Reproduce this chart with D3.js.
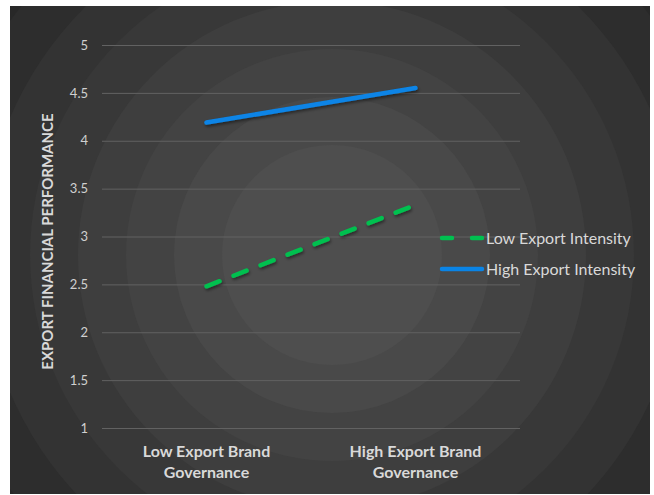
<!DOCTYPE html>
<html>
<head>
<meta charset="utf-8">
<script src="https://cdn.jsdelivr.net/npm/d3@7"></script>
<style>
  html, body { margin: 0; padding: 0; background: #ffffff; }
  svg { display: block; font-family: Lato, "Open Sans", sans-serif; }
</style>
</head>
<body>
<svg id="chart" width="654" height="495"></svg>
<script>
// Interaction plot: export brand governance x export intensity
const categories = ["Low Export Brand Governance", "High Export Brand Governance"];
const categoryLines = [["Low Export Brand", "Governance"], ["High Export Brand", "Governance"]];
const seriesNames = ["Low Export Intensity", "High Export Intensity"];
const lowIntensity = [2.48, 3.33];
const highIntensity = [4.19, 4.55];
const yTicks = [1, 1.5, 2, 2.5, 3, 3.5, 4, 4.5, 5];
const yTitle = "EXPORT FINANCIAL PERFORMANCE";

const svg = d3.select("#chart");
const frame = { x: 10, y: 6, w: 640, h: 488 };
const plot = { left: 102, right: 520, top: 45, bottom: 428 };

// Dark panel with stepped concentric rings
const defs = svg.append("defs");
defs.append("clipPath").attr("id", "panel-clip")
  .append("rect").attr("x", frame.x).attr("y", frame.y).attr("width", frame.w).attr("height", frame.h);
defs.append("filter").attr("id", "shadow").attr("x", "-10%").attr("y", "-50%").attr("width", "120%").attr("height", "200%")
  .append("feDropShadow").attr("dx", 1).attr("dy", 2).attr("stdDeviation", 1.5)
  .attr("flood-color", "#000").attr("flood-opacity", 0.45);

const panel = svg.append("g").attr("clip-path", "url(#panel-clip)");
panel.append("rect").attr("x", frame.x).attr("y", frame.y)
  .attr("width", frame.w).attr("height", frame.h).attr("fill", "#252525");
const cx = 332, cy = 255;
const ringRadii = d3.range(446, 100, -48);          // 446 ... 110
const ringShade = d3.scaleLinear().domain([110, 446]).range(["#4e4e4e", "#282828"]);
panel.selectAll("circle.ring").data(ringRadii).join("circle")
  .attr("class", "ring")
  .attr("cx", cx).attr("cy", cy).attr("r", d => d)
  .attr("fill", d => ringShade(d));

// Scales
const x = d3.scaleBand().domain(categories).range([plot.left, plot.right]);
const y = d3.scaleLinear().domain([1, 5]).range([plot.bottom, plot.top]);

// Gridlines and y tick labels
const yAxis = d3.axisLeft(y).tickValues(yTicks)
  .tickFormat(d3.format("~g"))
  .tickSize(-(plot.right - plot.left)).tickPadding(14);
const yg = svg.append("g").attr("transform", `translate(${plot.left},0)`).call(yAxis);
yg.select(".domain").remove();
yg.selectAll(".tick line").attr("stroke", "#626262").attr("stroke-width", 1);
yg.selectAll(".tick text").attr("fill", "#d0d0d0").attr("font-size", 13)
  .style("font-family", "Lato, 'Open Sans', sans-serif");

// Category labels
const xg = svg.append("g");
categories.forEach((c, i) => {
  const cxl = x(c) + x.bandwidth() / 2;
  const t = xg.append("text")
    .attr("x", cxl)
    .attr("y", 457)
    .attr("text-anchor", "middle")
    .attr("fill", "#d9d9d9")
    .attr("font-size", 16)
    .attr("font-weight", "bold");
  categoryLines[i].forEach((line, j) => {
    t.append("tspan").attr("x", cxl)
      .attr("dy", j === 0 ? 0 : 21).text(line);
  });
});

// Y axis title
svg.append("text")
  .attr("transform", `translate(53,${(plot.top + plot.bottom) / 2 + 5}) rotate(-90)`)
  .attr("text-anchor", "middle")
  .attr("fill", "#d9d9d9")
  .attr("font-size", 15)
  .attr("font-weight", "bold")
  .text(yTitle);

// Series lines
const line = d3.line()
  .x((d, i) => x(categories[i]) + x.bandwidth() / 2)
  .y(d => y(d));

const series = [
  { name: seriesNames[0], values: lowIntensity, color: "#00c050", dash: "14,15" },
  { name: seriesNames[1], values: highIntensity, color: "#0a84e6", dash: null }
];

svg.selectAll("path.series").data(series).join("path")
  .attr("class", "series")
  .attr("d", d => line(d.values))
  .attr("fill", "none")
  .attr("stroke", d => d.color)
  .attr("stroke-width", 4.5)
  .attr("stroke-linecap", "round")
  .attr("stroke-dasharray", d => d.dash)
  .attr("filter", "url(#shadow)");

// Legend
const legend = svg.append("g").attr("transform", "translate(442,238)");
series.forEach((s, i) => {
  const g = legend.append("g").attr("transform", `translate(0,${i * 31})`);
  g.append("line").attr("x1", 0).attr("x2", 40).attr("y1", 0).attr("y2", 0)
    .attr("stroke", s.color).attr("stroke-width", 4.5)
    .attr("stroke-linecap", "round")
    .attr("stroke-dasharray", s.dash ? "10,20" : null);
  g.append("text").attr("x", 44).attr("y", 5.5)
    .attr("fill", "#d9d9d9").attr("font-size", 16)
    .text(s.name);
});
</script>
</body>
</html>
